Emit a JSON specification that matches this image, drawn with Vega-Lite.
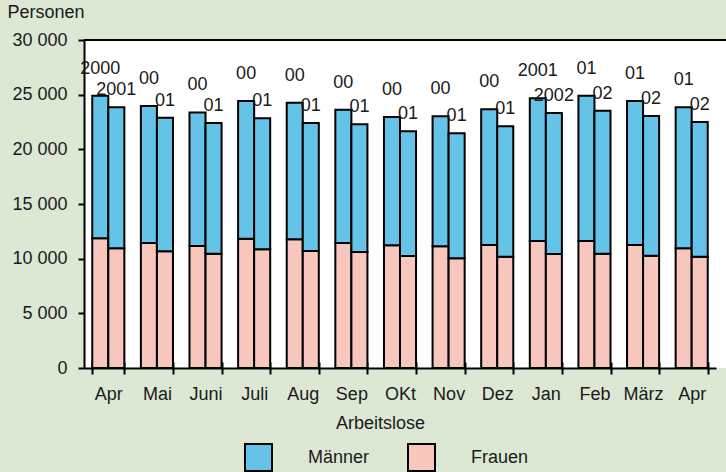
{
  "$schema": "https://vega.github.io/schema/vega-lite/v6.json",
  "autosize": "none",
  "padding": {"left": 84, "top": 40, "right": 0, "bottom": 104},
  "width": 642,
  "height": 328,
  "background": "#DCE8D4",
  "config": {
    "font": "Liberation Sans",
    "view": {"stroke": null, "fill": "white"},
    "axis": {"domainColor": "black", "domainWidth": 2, "tickColor": "black", "tickWidth": 2, "labelColor": "#1a1a1a", "labelFontSize": 18, "titleColor": "#1a1a1a", "titleFontSize": 18, "titleFontWeight": "normal", "grid": false},
    "legend": {"labelFontSize": 18, "labelColor": "#1a1a1a"}
  },
  "data": {"values": [
    {"Monat": "Apr 2000", "Balken": "a", "Label": "2000", "Geschlecht": "Frauen", "Personen": 11860},
    {"Monat": "Apr 2000", "Balken": "a", "Label": "2000", "Geschlecht": "Männer", "Personen": 13040},
    {"Monat": "Apr 2000", "Balken": "b", "Label": "2001", "Geschlecht": "Frauen", "Personen": 10950},
    {"Monat": "Apr 2000", "Balken": "b", "Label": "2001", "Geschlecht": "Männer", "Personen": 12900},
    {"Monat": "Mai 2000", "Balken": "a", "Label": "00", "Geschlecht": "Frauen", "Personen": 11430},
    {"Monat": "Mai 2000", "Balken": "a", "Label": "00", "Geschlecht": "Männer", "Personen": 12530},
    {"Monat": "Mai 2000", "Balken": "b", "Label": "01", "Geschlecht": "Frauen", "Personen": 10670},
    {"Monat": "Mai 2000", "Balken": "b", "Label": "01", "Geschlecht": "Männer", "Personen": 12230},
    {"Monat": "Juni 2000", "Balken": "a", "Label": "00", "Geschlecht": "Frauen", "Personen": 11160},
    {"Monat": "Juni 2000", "Balken": "a", "Label": "00", "Geschlecht": "Männer", "Personen": 12220},
    {"Monat": "Juni 2000", "Balken": "b", "Label": "01", "Geschlecht": "Frauen", "Personen": 10460},
    {"Monat": "Juni 2000", "Balken": "b", "Label": "01", "Geschlecht": "Männer", "Personen": 11950},
    {"Monat": "Juli 2000", "Balken": "a", "Label": "00", "Geschlecht": "Frauen", "Personen": 11830},
    {"Monat": "Juli 2000", "Balken": "a", "Label": "00", "Geschlecht": "Männer", "Personen": 12590},
    {"Monat": "Juli 2000", "Balken": "b", "Label": "01", "Geschlecht": "Frauen", "Personen": 10850},
    {"Monat": "Juli 2000", "Balken": "b", "Label": "01", "Geschlecht": "Männer", "Personen": 11990},
    {"Monat": "Aug 2000", "Balken": "a", "Label": "00", "Geschlecht": "Frauen", "Personen": 11770},
    {"Monat": "Aug 2000", "Balken": "a", "Label": "00", "Geschlecht": "Männer", "Personen": 12500},
    {"Monat": "Aug 2000", "Balken": "b", "Label": "01", "Geschlecht": "Frauen", "Personen": 10700},
    {"Monat": "Aug 2000", "Balken": "b", "Label": "01", "Geschlecht": "Männer", "Personen": 11710},
    {"Monat": "Sep 2000", "Balken": "a", "Label": "00", "Geschlecht": "Frauen", "Personen": 11430},
    {"Monat": "Sep 2000", "Balken": "a", "Label": "00", "Geschlecht": "Männer", "Personen": 12200},
    {"Monat": "Sep 2000", "Balken": "b", "Label": "01", "Geschlecht": "Frauen", "Personen": 10610},
    {"Monat": "Sep 2000", "Balken": "b", "Label": "01", "Geschlecht": "Männer", "Personen": 11680},
    {"Monat": "OKt 2000", "Balken": "a", "Label": "00", "Geschlecht": "Frauen", "Personen": 11220},
    {"Monat": "OKt 2000", "Balken": "a", "Label": "00", "Geschlecht": "Männer", "Personen": 11740},
    {"Monat": "OKt 2000", "Balken": "b", "Label": "01", "Geschlecht": "Frauen", "Personen": 10240},
    {"Monat": "OKt 2000", "Balken": "b", "Label": "01", "Geschlecht": "Männer", "Personen": 11410},
    {"Monat": "Nov 2000", "Balken": "a", "Label": "00", "Geschlecht": "Frauen", "Personen": 11130},
    {"Monat": "Nov 2000", "Balken": "a", "Label": "00", "Geschlecht": "Männer", "Personen": 11890},
    {"Monat": "Nov 2000", "Balken": "b", "Label": "01", "Geschlecht": "Frauen", "Personen": 10030},
    {"Monat": "Nov 2000", "Balken": "b", "Label": "01", "Geschlecht": "Männer", "Personen": 11430},
    {"Monat": "Dez 2000", "Balken": "a", "Label": "00", "Geschlecht": "Frauen", "Personen": 11250},
    {"Monat": "Dez 2000", "Balken": "a", "Label": "00", "Geschlecht": "Männer", "Personen": 12410},
    {"Monat": "Dez 2000", "Balken": "b", "Label": "01", "Geschlecht": "Frauen", "Personen": 10180},
    {"Monat": "Dez 2000", "Balken": "b", "Label": "01", "Geschlecht": "Männer", "Personen": 11920},
    {"Monat": "Jan 2001", "Balken": "a", "Label": "2001", "Geschlecht": "Frauen", "Personen": 11620},
    {"Monat": "Jan 2001", "Balken": "a", "Label": "2001", "Geschlecht": "Männer", "Personen": 13050},
    {"Monat": "Jan 2001", "Balken": "b", "Label": "2002", "Geschlecht": "Frauen", "Personen": 10430},
    {"Monat": "Jan 2001", "Balken": "b", "Label": "2002", "Geschlecht": "Männer", "Personen": 12890},
    {"Monat": "Feb 2001", "Balken": "a", "Label": "01", "Geschlecht": "Frauen", "Personen": 11620},
    {"Monat": "Feb 2001", "Balken": "a", "Label": "01", "Geschlecht": "Männer", "Personen": 13290},
    {"Monat": "Feb 2001", "Balken": "b", "Label": "02", "Geschlecht": "Frauen", "Personen": 10460},
    {"Monat": "Feb 2001", "Balken": "b", "Label": "02", "Geschlecht": "Männer", "Personen": 13080},
    {"Monat": "März 2001", "Balken": "a", "Label": "01", "Geschlecht": "Frauen", "Personen": 11250},
    {"Monat": "März 2001", "Balken": "a", "Label": "01", "Geschlecht": "Männer", "Personen": 13170},
    {"Monat": "März 2001", "Balken": "b", "Label": "02", "Geschlecht": "Frauen", "Personen": 10270},
    {"Monat": "März 2001", "Balken": "b", "Label": "02", "Geschlecht": "Männer", "Personen": 12780},
    {"Monat": "Apr 2001", "Balken": "a", "Label": "01", "Geschlecht": "Frauen", "Personen": 10950},
    {"Monat": "Apr 2001", "Balken": "a", "Label": "01", "Geschlecht": "Männer", "Personen": 12900},
    {"Monat": "Apr 2001", "Balken": "b", "Label": "02", "Geschlecht": "Frauen", "Personen": 10180},
    {"Monat": "Apr 2001", "Balken": "b", "Label": "02", "Geschlecht": "Männer", "Personen": 12320}
  ]},
  "resolve": {"axis": {"x": "independent"}},
  "layer": [
    {
      "mark": {"type": "bar", "stroke": "black", "strokeWidth": 2},
      "encoding": {
        "x": {"field": "Monat", "type": "nominal", "sort": null,
          "scale": {"range": [0, 632], "paddingInner": 0.34, "paddingOuter": 0.17},
          "axis": {"orient": "bottom", "labelAngle": 0, "tickBand": "extent", "tickSize": 6, "labelPadding": 11, "labelExpr": "split(datum.label, ' ')[0]",
            "title": "Arbeitslose", "titleX": 296, "titleY": 55, "titleBaseline": "middle"}},
        "xOffset": {"field": "Balken", "type": "nominal", "scale": {"paddingInner": 0, "paddingOuter": 0}},
        "y": {"field": "Personen", "type": "quantitative", "stack": "zero",
          "scale": {"domain": [0, 30000], "nice": false},
          "axis": {"values": [0, 5000, 10000, 15000, 20000, 25000, 30000], "tickSize": 6, "labelPadding": 11,
            "labelExpr": "replace(format(datum.value, ','), ',', ' ')",
            "title": "Personen", "titleAngle": 0, "titleAlign": "left", "titleBaseline": "middle", "titleX": -77, "titleY": -28}},
        "color": {"field": "Geschlecht", "type": "nominal",
          "scale": {"domain": ["Männer", "Frauen"], "range": ["#66C3E8", "#F7C6BC"]},
          "legend": {"title": null, "orient": "none", "direction": "horizontal", "legendX": 160, "legendY": 403, "padding": 0,
            "symbolType": "square", "symbolSize": 729, "symbolStrokeColor": "black", "symbolStrokeWidth": 2, "symbolOpacity": 1,
            "labelOffset": 35, "columnPadding": 34}},
        "order": {"field": "Geschlecht", "sort": "ascending"}
      }
    },
    {
      "transform": [{"filter": "datum.Balken == 'a'"}],
      "mark": {"type": "text", "baseline": "middle", "dy": -27, "fontSize": 18, "color": "#1a1a1a"},
      "encoding": {
        "x": {"field": "Monat", "type": "nominal", "sort": null,
          "axis": {"orient": "bottom", "labels": false, "domain": false, "tickSize": -6, "tickBand": "extent", "title": null}},
        "xOffset": {"field": "Balken", "type": "nominal"},
        "y": {"aggregate": "sum", "field": "Personen", "type": "quantitative", "title": "Personen"},
        "text": {"field": "Label", "type": "nominal"}
      }
    },
    {
      "transform": [{"filter": "datum.Balken == 'b'"}],
      "mark": {"type": "text", "baseline": "middle", "dy": -17, "fontSize": 18, "color": "#1a1a1a"},
      "encoding": {
        "x": {"field": "Monat", "type": "nominal", "sort": null, "axis": null},
        "xOffset": {"field": "Balken", "type": "nominal"},
        "y": {"aggregate": "sum", "field": "Personen", "type": "quantitative", "title": "Personen"},
        "text": {"field": "Label", "type": "nominal"}
      }
    },
    {
      "data": {"values": [{}]},
      "mark": {"type": "rule", "color": "black", "strokeWidth": 2},
      "encoding": {"y": {"datum": 30000}}
    }
  ]
}
